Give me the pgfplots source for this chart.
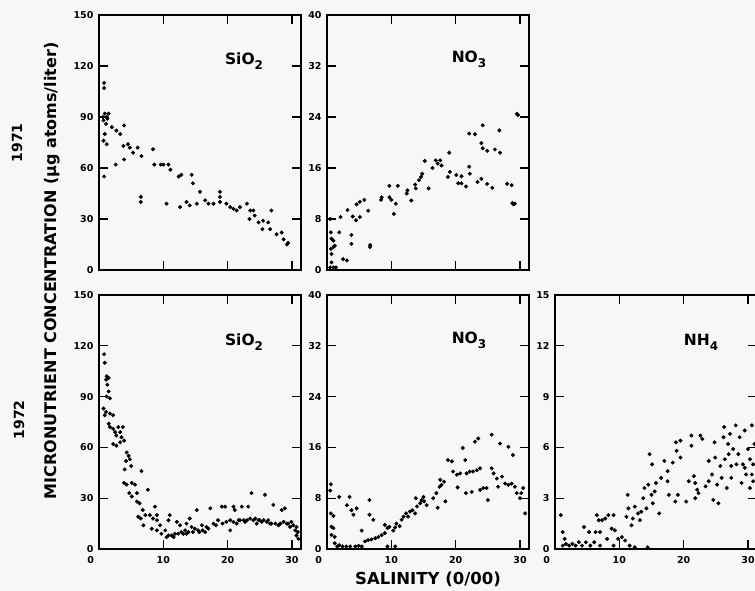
\documentclass[border=0pt]{standalone}
\usepackage{fontspec}
\setmainfont{DejaVu Sans}
\usepackage{pgfplots}
\pgfplotsset{compat=1.18}
\definecolor{bg}{HTML}{F7F7F7}
\pgfplotsset{
  panel/.style={
    scale only axis, width=202pt, height=255pt,
    xmin=0, xmax=31.4,
    xtick={0,10,20,30},
    tick align=inside, xtick pos=both, ytick pos=both,
    major tick length=9pt,
    axis line style={line width=1.3pt, black},
    major tick style={line width=1.1pt, black},
    /pgf/number format/assume math mode=true,
    tick label style={font=\bfseries\fontsize{9.5}{10}\selectfont},
    yticklabel style={xshift=-2pt},
    xticklabel style={yshift=-4pt},
    axis background/.style={fill=bg},
  },
  top/.style={panel, xticklabels={}},
  bot/.style={panel, height=254pt, xticklabels={\makebox[0pt][r]{0\hspace{5pt}},10,20,30}},
  pts/.style={only marks, mark=*, mark size=1.8pt, black, mark options={fill=black, draw=black}},
}
\newcommand{\ttl}[2]{\bfseries\fontsize{15.5}{16}\selectfont #1\raisebox{-5pt}{\fontsize{12}{12}\selectfont #2}}
\begin{document}
\begin{tikzpicture}[x=1pt,y=1pt]
\fill[bg] (0,0) rectangle (755,591);
% 1971 SiO2
\begin{axis}[top, at={(99pt,321pt)}, anchor=south west, ymin=0, ymax=150, ytick={0,30,60,90,120,150}]
\addplot[pts] coordinates {
(0.8,110)(0.8,107)(0.6,90)(0.9,92)(1.2,90)(1.5,92)(0.7,88)(1.1,86)(1.3,89)(0.9,80)(0.7,76)(1.2,74)(0.8,55)
(2.0,84)(2.7,82)(3.9,85)(3.3,80)(2.6,62)(3.9,65)(3.8,73)(4.5,74)(4.8,72)(5.3,69)(6.0,72)(6.6,67)
(6.5,43)(6.5,40)(8.4,71)(8.6,62)(9.6,62)(10.0,62)(10.5,39)(10.8,62)(11.1,59)(12.4,55)(12.8,56)
(12.6,37)(13.6,40)(14.1,38)(14.4,56)(14.6,51)(15.2,39)(15.7,46)(16.5,41)(17.0,39)(17.8,39)
(18.8,40)(18.8,43)(18.8,46)(19.8,39)(20.4,37)(20.9,36)(21.4,35)(21.9,37)(23.0,39)(23.5,35)(24.0,35)
(23.4,30)(24.2,32)(24.8,28)(25.5,29)(25.4,24)(26.3,28)(26.8,35)(26.6,24)(27.6,21)(28.4,22)
(28.7,18)(29.2,15)(29.4,16)
};
\node[anchor=base] at (rel axis cs:0.718,0.804) {\ttl{SiO}{2}};
\end{axis}
% 1971 NO3
\begin{axis}[top, at={(327pt,321pt)}, anchor=south west, ymin=0, ymax=40, ytick={0,8,16,24,32,40}]
\addplot[pts] coordinates {
(0.5,8.0)(0.6,5.9)(0.7,4.9)(1.0,4.6)(0.6,3.3)(1.0,3.6)(1.2,3.8)(0.7,2.5)(0.7,1.2)(1.0,0.4)(1.4,0.4)(0.5,0.4)
(1.9,5.9)(2.1,8.3)(2.5,1.7)(3.1,1.5)(3.2,9.4)(3.8,4.1)(3.8,5.5)(4.0,8.4)(4.5,7.8)(4.6,10.3)(5.1,8.3)
(5.1,10.7)(5.8,11.0)(6.4,9.3)(6.7,3.9)(6.7,3.6)(8.4,11.0)(8.5,11.4)(9.7,13.2)(9.7,11.4)(10.0,11.0)
(10.4,8.8)(10.7,10.4)(11.0,13.2)(12.4,12.0)(12.5,12.5)(13.1,10.9)(13.7,13.4)(13.8,12.8)(14.3,14.1)
(14.6,14.6)(14.8,15.1)(15.2,17.1)(15.8,12.8)(16.4,16.0)(16.9,17.2)(17.6,17.2)(17.2,16.7)(17.8,16.4)
(19.0,18.4)(18.8,14.6)(19.1,15.4)(20.1,14.9)(20.4,13.6)(20.9,14.7)(20.9,13.6)(21.6,13.1)(22.1,21.4)
(22.1,16.2)(22.2,15.1)(23.0,21.3)(23.4,13.8)(24.0,14.3)(24.2,22.7)(24.0,19.9)(24.2,19.1)(24.9,18.7)
(24.9,13.5)(25.7,12.9)(26.1,18.9)(26.8,21.9)(26.9,18.4)(28.0,13.5)(28.7,13.3)(28.8,10.5)(29.0,10.3)
(29.2,10.4)(29.5,24.5)(29.7,24.3)
};
\node[anchor=base] at (rel axis cs:0.703,0.812) {\ttl{NO}{3}};
\end{axis}
% 1972 SiO2
\begin{axis}[bot, at={(99pt,42pt)}, anchor=south west, ymin=0, ymax=150, ytick={0,30,60,90,120,150}]
\addplot[pts] coordinates {
(0.8,115)(0.9,110)(1.2,102)(1.1,100)(1.5,101)(1.3,97)(1.5,93)(1.2,90)(1.7,89)(0.7,83)(1.1,81)(0.9,79)
(1.7,80)(2.2,79)(1.5,74)(1.7,72)(2.2,71)(2.5,69)(3.0,72)(3.3,69)(2.7,67)(3.5,66)(2.2,62)(2.7,61)
(3.7,72)(3.3,63)(3.9,64)(4.3,57)(4.6,55)(4.2,52)(4.0,47)(4.8,53)(5.0,49)(3.9,39)(4.3,38)(5.1,39)
(5.6,38)(4.7,33)(5.1,31)(5.9,33)(5.9,28)(6.3,27)(6.6,46)(6.8,23)(6.1,19)(6.5,18)(7.2,20)(7.6,35)
(6.9,14)(7.9,20)(8.4,18)(8.7,25)(9.0,20)(9.0,17)(8.2,12)(9.0,11)(9.5,14)(9.7,9)(10.3,11)(10.8,17)
(11.0,20)(10.5,7)(11.3,8)(11.8,9)(12.1,16)(12.6,14)(12.8,10)(13.4,11)(13.6,15)(14.1,18)(13.9,10)
(14.4,13)(14.9,12)(15.2,23)(15.4,11)(16.0,14)(16.5,10)(17.0,12)(17.3,24)(17.8,15)(18.5,17)(19.1,25)
(19.6,25)(19.8,16)(20.4,11)(20.4,17)(20.9,25)(21.1,23)(21.4,15)(21.9,17)(22.2,25)(22.7,16)(23.2,25)
(23.7,33)(24.0,17)(24.5,15)(25.0,17)(25.8,32)(26.1,16)(26.8,15)(27.1,26)(27.9,14)(28.4,23)(28.9,24)
(29.2,15)(29.7,13)(30.2,14)(30.5,11)(30.7,8)(31.0,6)
(20.9,16)(21.7,17)(22.5,17)(23.0,17)(23.5,18)(24.3,18)(24.8,17)(25.3,16)(25.6,17)(26.3,17)(26.6,15)
(27.4,15)(28.2,15)(28.7,16)(29.4,15)(29.9,16)(30.7,13)(30.9,10)
(10.8,8)(11.6,7)(12.3,9)(13.1,9)(13.6,9)(14.6,10)(15.6,10)(16.1,11)(16.7,13)(18.2,14)(19.2,15)
};
\node[anchor=base] at (rel axis cs:0.718,0.803) {\ttl{SiO}{2}};
\end{axis}
% 1972 NO3
\begin{axis}[bot, at={(327pt,42pt)}, anchor=south west, ymin=0, ymax=40, ytick={0,8,16,24,32,40}]
\addplot[pts] coordinates {
(0.6,10.2)(0.5,9.2)(0.6,5.6)(1.0,5.2)(0.7,3.5)(1.0,3.3)(0.7,2.2)(1.2,1.9)(1.2,0.9)(1.6,0.4)(1.9,0.6)
(2.4,0.4)(3.0,0.4)(3.6,0.4)(4.4,0.4)(4.9,0.5)(5.4,0.4)(1.9,8.2)(3.1,6.9)(3.5,8.2)(3.8,6.1)(4.1,5.4)
(4.6,6.4)(5.4,2.9)(6.6,7.7)(6.6,5.4)(7.2,4.6)
(5.9,1.2)(6.4,1.4)(6.9,1.5)(7.5,1.7)(8.0,1.9)(8.5,2.2)(9.0,2.5)(9.4,0.4)(10.6,0.4)(9.0,3.8)(9.4,3.3)
(9.7,3.5)(10.3,2.9)(10.6,3.4)(10.8,4.0)(11.3,3.6)(11.6,4.6)(11.9,5.1)(12.3,5.6)(12.6,5.1)(12.9,5.9)
(13.3,6.1)(13.7,5.6)(13.8,8.0)(14.0,6.7)(14.5,7.2)(14.7,7.7)(15.1,7.5)(15.5,6.9)(15.0,8.2)(16.5,8.0)
(17.0,8.8)(17.2,6.5)(17.5,9.8)(17.6,10.9)(17.8,10.1)(18.2,10.6)(18.4,7.5)(18.8,14.0)(19.4,13.8)
(19.6,12.2)(20.2,11.7)(20.3,9.7)(20.7,11.9)(21.1,15.9)(21.5,14.0)(21.7,11.9)(21.6,8.8)(22.2,12.2)
(22.5,9.0)(22.7,12.2)(23.0,16.9)(23.3,12.4)(23.5,17.4)(23.8,12.7)(23.8,9.3)(24.3,9.6)(24.8,9.6)
(25.0,7.7)(25.6,18.0)(25.6,12.7)(25.9,11.9)(26.4,11.1)(26.6,9.8)(26.9,16.6)(27.2,11.4)(27.7,10.3)
(28.2,16.1)(28.2,10.1)(28.7,10.3)(28.9,14.8)(29.2,9.8)(29.5,8.8)(30.0,8.0)(30.5,9.6)(30.8,5.6)(30.2,8.8)
};
\node[anchor=base] at (rel axis cs:0.703,0.811) {\ttl{NO}{3}};
\end{axis}
% 1972 NH4
\begin{axis}[bot, at={(555pt,42pt)}, anchor=south west, ymin=0, ymax=15, ytick={0,3,6,9,12,15}]
\addplot[pts] coordinates {
(0.9,2.0)(1.2,1.0)(1.5,0.6)(1.2,0.2)(1.7,0.3)(2.2,0.2)(2.7,0.3)(3.2,0.2)(3.7,0.4)(4.2,0.2)(4.5,1.3)
(4.8,0.4)(5.3,1.0)(5.5,0.2)(6.1,0.4)(6.3,1.0)(6.5,2.0)(6.8,1.7)(7.3,1.7)(7.8,1.8)(7.0,1.0)(7.0,0.2)
(8.3,2.0)(9.1,2.0)(8.8,1.2)(9.3,1.1)(8.1,0.6)(9.1,0.2)(9.8,0.6)(10.4,0.7)(10.9,0.5)(11.6,0.2)(12.4,0.1)
(14.4,0.1)(11.3,3.2)(11.1,1.9)(11.4,2.4)(11.9,1.4)(12.1,1.8)(12.4,2.5)(12.9,2.1)(13.2,1.7)(13.4,2.2)
(13.7,3.0)(13.9,3.6)(14.2,2.4)(14.5,3.8)(14.7,5.6)(15.0,3.2)(15.1,5.0)(15.2,2.7)(15.5,3.4)(15.7,3.9)
(16.2,2.1)(16.5,4.2)(17.0,5.2)(17.5,4.6)(17.5,4.0)(17.7,3.2)(18.3,5.1)(18.7,2.8)(18.8,6.3)(18.9,5.8)
(19.1,3.2)(19.5,6.4)(19.5,5.4)(20.4,2.8)(20.8,4.0)(21.2,6.7)(21.2,6.1)(21.6,4.3)(21.8,3.9)(21.8,3.0)
(22.1,3.5)(22.6,6.7)(22.9,6.5)(22.3,3.3)(23.4,3.7)(23.9,5.2)(23.9,4.0)(24.4,4.4)(24.6,2.9)(24.8,6.3)
(24.9,5.4)(25.2,3.8)(25.4,2.7)(25.7,4.9)(25.9,4.2)(26.2,6.6)(26.3,7.2)(26.4,5.3)(26.7,3.6)(26.9,6.2)
(27.0,5.6)(27.2,6.8)(27.4,4.9)(27.4,4.2)(27.7,5.9)(28.1,7.3)(28.2,5.0)(28.5,5.6)(28.7,6.6)(29.0,3.9)
(29.2,5.0)(29.5,7.0)(29.5,4.8)(29.7,4.4)(30.0,5.9)(30.3,5.3)(30.6,4.4)(30.6,7.3)(30.8,4.0)(30.3,3.6)
(30.8,5.0)(31.0,6.2)
};
\node[anchor=base] at (rel axis cs:0.723,0.80) {\ttl{NH}{4}};
\end{axis}
\node[rotate=90, font=\bfseries\fontsize{16}{17}\selectfont] at (52,320) {MICRONUTRIENT CONCENTRATION (µg atoms/liter)};
\node[rotate=90, font=\bfseries\fontsize{14}{15}\selectfont] at (17,448) {1971};
\node[rotate=90, font=\bfseries\fontsize{14}{15}\selectfont] at (19,171) {1972};
\node[anchor=base, font=\bfseries\fontsize{16.5}{17}\selectfont] at (428,6) {SALINITY (0/00)};
\pgfresetboundingbox
\path[use as bounding box] (0,0) rectangle (755,591);
\end{tikzpicture}
\end{document}
